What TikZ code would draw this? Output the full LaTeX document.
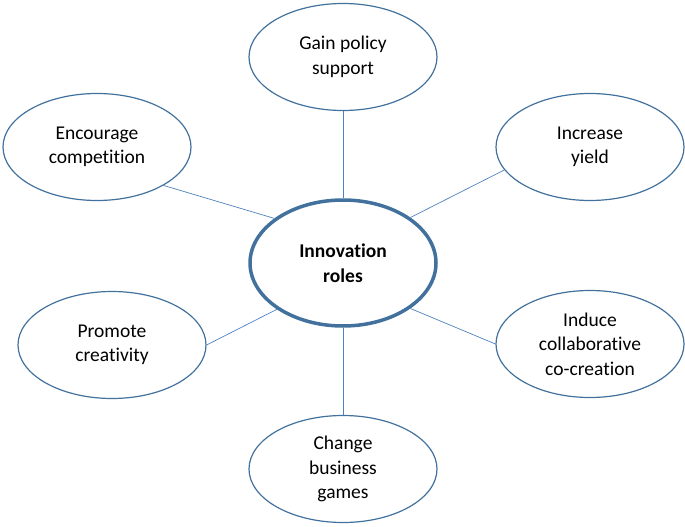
\documentclass[tikz,border=0pt]{standalone}
\usepackage{fontspec}
\setmainfont[Ligatures={NoCommon}]{Carlito}
\usepackage{xcolor}
\usepackage{tikz}
\usetikzlibrary{shapes.geometric, positioning}
\definecolor{rimblue}{HTML}{41719C}
\definecolor{linkblue}{HTML}{4F81BD}

\begin{document}
\begin{tikzpicture}[x=1pt, y=-1pt,
    role/.style={ellipse, draw=rimblue, line width=1.2pt, fill=white,
                 minimum width=188pt, minimum height=107pt, inner sep=0pt,
                 align=center, font=\fontsize{19.5}{24.5}\selectfont},
    hub/.style={role, line width=3.5pt, minimum width=186pt, minimum height=126pt,
                font=\fontsize{19.5}{24.5}\selectfont\bfseries},
    link/.style={draw=linkblue, line width=0.7pt}]
    \useasboundingbox (0,0) rectangle (685,527);

    % Center
    \node[hub] (roles) at (343,263) {Innovation\\roles};

    % Surrounding roles
    \node[role] (policy) at (343,57) {Gain policy\\support};
    \node[role] (compete) at (97,147) {Encourage\\competition};
    \node[role] (yield) at (590,147) {Increase\\yield};
    \node[role] (create) at (112,345) {Promote\\creativity};
    \node[role] (cocreate) at (590,344) {Induce\\collaborative\\co-creation};
    \node[role] (games) at (343,469) {Change\\business\\games};

    % Links
    \draw[link] (roles.90) -- (policy.-90);
    \draw[link] (roles.-90) -- (games.90);
    \draw[link] (roles.147) -- (compete.-30);
    \draw[link] (roles.34) -- (yield.-165);
    \draw[link] (roles.-145) -- (create.0);
    \draw[link] (roles.-34) -- (cocreate.180);
\end{tikzpicture}
\end{document}
